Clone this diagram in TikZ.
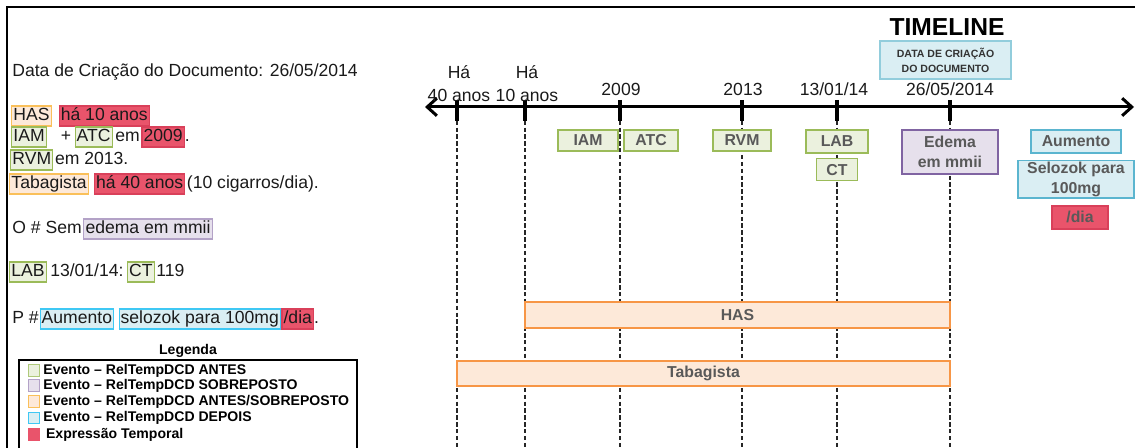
\documentclass[tikz,border=0pt]{standalone}
\usepackage{fontspec}
\setmainfont{Liberation Sans}
\usetikzlibrary{arrows.meta,positioning}

\definecolor{grnB}{HTML}{9BBB59}
\definecolor{grnF}{HTML}{EBF1DE}
\definecolor{purB}{HTML}{8064A2}
\definecolor{purL}{HTML}{B3A2C7}
\definecolor{purF}{HTML}{E6E0EC}
\definecolor{orgB}{HTML}{F79646}
\definecolor{yelB}{HTML}{FAC05A}
\definecolor{orgF}{HTML}{FDE9D9}
\definecolor{bluB}{HTML}{5BB5CF}
\definecolor{cyaB}{HTML}{3FC8F4}
\definecolor{dcdB}{HTML}{92CDDC}
\definecolor{bluF}{HTML}{DAEEF3}
\definecolor{redB}{HTML}{D9405A}
\definecolor{redF}{HTML}{E9546B}
\definecolor{txtG}{HTML}{595959}
\definecolor{ink}{HTML}{1A1A1A}

% highlighted word in the running text
\newcommand{\hbx}[3]{{\setlength{\fboxsep}{0.6pt}\setlength{\fboxrule}{0.6pt}\fcolorbox{#1}{#2}{\rule[-2.2pt]{0pt}{9.6pt}#3}}}
\newcommand{\hlg}[1]{\hbx{grnB}{grnF}{#1}}
\newcommand{\hlp}[1]{\hbx{purL}{purF}{#1}}
\newcommand{\hlo}[1]{\hbx{yelB}{orgF}{#1}}
\newcommand{\hlb}[1]{\hbx{cyaB}{bluF}{#1}}
\newcommand{\hlr}[1]{\hbx{redB}{redF}{#1}}

\begin{document}
\begin{tikzpicture}[
  x=0.02cm, y=-0.02cm,
  txt/.style={anchor=west, inner sep=0pt, text=ink, font=\fontsize{10}{12}\selectfont},
  tlbl/.style={align=center, inner sep=0pt, text=ink, font=\fontsize{10}{13}\selectfont},
  evt/.style={draw, line width=0.9pt, inner sep=1pt, align=center, text=txtG, font=\bfseries\fontsize{9}{11}\selectfont},
  ante/.style={evt, draw=grnB, fill=grnF},
  sobre/.style={evt, draw=purB, fill=purF},
  depois/.style={evt, draw=bluB, fill=bluF},
  texp/.style={evt, draw=redB, fill=redF},
  bar/.style={evt, draw=orgB, fill=orgF},
  guide/.style={line width=0.7pt, dash pattern=on 2.5pt off 1.4pt, draw=black!85},
  tick/.style={line width=2.3pt},
  axis/.style={{Straight Barb[length=5.5pt,width=10pt]}-{Straight Barb[length=5.5pt,width=10pt]}, line width=1.7pt},
  legsq/.style={draw, line width=0.8pt, minimum size=0.23cm, inner sep=0pt},
  legtx/.style={inner sep=1pt, font=\bfseries\fontsize{8}{10}\selectfont}
]
\useasboundingbox (0,0) rectangle (1135,448);
\draw[line width=1.4pt] (7,448) -- (7,7) -- (1135,7);

% running text
\node[txt] (dcdtxt) at (12,72) {Data de Criação do Documento: 26/05/2014};
\node[txt] (has) at (11,116) {\hlo{HAS}\hspace{4pt}\hlr{há 10 anos}};
\node[txt] (iam) at (11,137) {\hlg{IAM}\hspace{8pt}+\hspace{2pt}\hlg{ATC}\hspace{1.5pt}em\hspace{1pt}\hlr{2009}.};
\node[txt] (rvm) at (10,160) {\hlg{RVM}\hspace{1pt}em 2013.};
\node[txt] (tab) at (9,184) {\hlo{Tabagista}\hspace{3pt}\hlr{há 40 anos}\hspace{1pt}(10 cigarros/dia).};
\node[txt] (oo) at (12,229) {O \# Sem\hspace{1pt}\hlp{edema em mmii}};
\node[txt] (lab) at (9,272) {\hlg{LAB}\hspace{2pt}13/01/14:\hspace{2pt}\hlg{CT}\hspace{1pt}119};
\node[txt] (pp) at (12,319) {P \#\hspace{0.5pt}\hlb{Aumento}\hspace{2.5pt}\hlb{selozok para 100mg}\hspace{0.3pt}\hlr{/dia}.};

% timeline
\coordinate (bot) at (0,452);
\coordinate (axl) at (425,107);
\coordinate (axr) at (1134,107);
\coordinate (c40) at (457,107);
\coordinate (c10) at (525,107);
\coordinate (c2009) at (620,107);
\coordinate (c2013) at (742,107);
\coordinate (c1301) at (837,107);
\coordinate (c2605) at (950,107);

\draw[guide] (c40) -- (c40 |- bot);
\draw[guide] (c10) -- (c10 |- bot);
\draw[guide] (c2009) -- (c2009 |- bot);
\draw[guide] (c2013) -- (c2013 |- bot);
\draw[guide] (c1301) -- (c1301 |- bot);
\draw[guide] (c2605) -- (c2605 |- bot);

\draw[axis] (axl) -- (axr);
\draw[tick] ([yshift=4pt]c40) -- ([yshift=-8pt]c40);
\draw[tick] ([yshift=4pt]c10) -- ([yshift=-8pt]c10);
\draw[tick] ([yshift=4pt]c2009) -- ([yshift=-8pt]c2009);
\draw[tick] ([yshift=4pt]c2013) -- ([yshift=-8pt]c2013);
\draw[tick] ([yshift=4pt]c1301) -- ([yshift=-8pt]c1301);
\draw[tick] ([yshift=4pt]c2605) -- ([yshift=-8pt]c2605);

\node[tlbl] (l40) at (459,83.5) {Há\\40 anos};
\node[tlbl] (l10) at (527,83.5) {Há\\10 anos};
\node[tlbl] (l2009) at (621,89) {2009};
\node[tlbl] (l2013) at (743,89) {2013};
\node[tlbl] (l1301) at (834,89) {13/01/14};
\node[tlbl] (l2605) at (950,89) {26/05/2014};

\node[font=\bfseries\fontsize{14}{16}\selectfont, inner sep=0pt] (title) at (947,27) {TIMELINE};
\node[draw=dcdB, fill=bluF, line width=0.9pt, align=center, text=black!80, minimum width=2.62cm, minimum height=0.76cm, inner sep=1pt, font=\bfseries\fontsize{6}{8.5}\selectfont] (dcd) at (945.5,60) {DATA DE CRIAÇÃO\\DO DOCUMENTO};

% events
\node[ante, minimum width=1.2cm, minimum height=0.42cm] (eiam) at (588,140.5) {IAM};
\node[ante, minimum width=1.08cm, minimum height=0.42cm] (eatc) at (651,140.5) {ATC};
\node[ante, minimum width=1.16cm, minimum height=0.42cm] (ervm) at (742,140.5) {RVM};
\node[ante, minimum width=1.24cm, minimum height=0.46cm] (elab) at (837,141.5) {LAB};
\node[ante, minimum width=0.82cm, minimum height=0.44cm, below=0.08cm of elab] (ect) {CT};
\node[sobre, minimum width=1.92cm, minimum height=0.88cm, font=\bfseries\fontsize{9}{11.3}\selectfont] (eede) at (950,152) {Edema\\em mmii};
\node[depois, minimum width=1.8cm, minimum height=0.46cm] (eaum) at (1076,141.5) {Aumento};
\node[depois, minimum width=2.32cm, minimum height=0.74cm, below=0.12cm of eaum] (esel) {Selozok para\\100mg};
\node[texp, minimum width=1.12cm, minimum height=0.46cm, below=0.12cm of esel, xshift=0.08cm] (edia) {/dia};

\node[bar, minimum width=8.5cm, minimum height=0.52cm] (bhas) at (737.5,315) {HAS};
\node[bar, minimum width=9.86cm, minimum height=0.5cm] (btab) at (703.5,373.5) {Tabagista};

% legend
\node[legtx] (legt) at (188,351) {Legenda};
\node[draw, line width=0.9pt, anchor=north west, minimum width=6.76cm, minimum height=2.4cm] (leg) at (18,359) {};
\node[legsq, draw=grnB!80, fill=grnF] (sq1) at (34,370.5) {};
\node[legsq, draw=purL, fill=purF] (sq2) at (34,385.5) {};
\node[legsq, draw=yelB, fill=orgF] (sq3) at (34,401.5) {};
\node[legsq, draw=cyaB, fill=bluF] (sq4) at (34,418) {};
\node[legsq, draw=redF, fill=redF] (sq5) at (34,434.5) {};
\node[legtx, right=0.5pt of sq1] (lt1) {Evento -- RelTempDCD ANTES};
\node[legtx, right=0.5pt of sq2] (lt2) {Evento -- RelTempDCD SOBREPOSTO};
\node[legtx, right=0.5pt of sq3] (lt3) {Evento -- RelTempDCD ANTES/SOBREPOSTO};
\node[legtx, right=0.5pt of sq4] (lt4) {Evento -- RelTempDCD DEPOIS};
\node[legtx, right=2pt of sq5] (lt5) {Expressão Temporal};
\end{tikzpicture}
\end{document}
